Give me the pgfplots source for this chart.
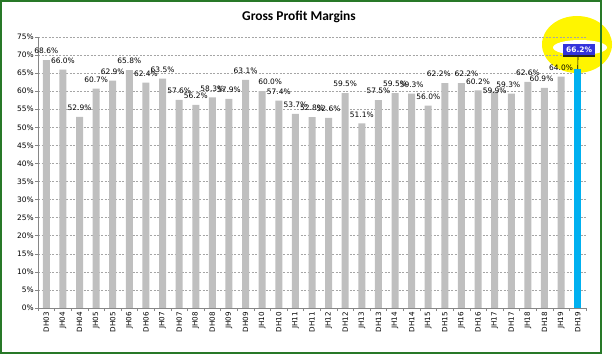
\documentclass[border=0pt]{standalone}
\usepackage{fontspec}
\setmainfont{DejaVu Sans}
\newfontfamily\titlefont{Carlito}
\usepackage{pgfplots}
\pgfplotsset{compat=1.18}
\usepackage{pgfplotstable}

\definecolor{bargray}{RGB}{191,191,191}
\definecolor{barblue}{RGB}{0,176,240}
\definecolor{gridgray}{RGB}{165,165,165}
\definecolor{axisgray}{RGB}{134,134,134}
\definecolor{framegreen}{RGB}{40,120,40}
\definecolor{lblblue}{RGB}{51,51,220}
\definecolor{hilite}{RGB}{255,245,0}

% dx, dy: label offsets in pixels
\pgfplotstableread{
x y dx dy
0 68.6 0 0
1 66.0 0 0
2 52.9 0 0
3 60.7 0 0
4 62.9 0 0
5 65.8 0 0
6 62.4 0 0
7 63.5 0 0
8 57.6 0 0
9 56.2 0 0
10 58.3 0 0
11 57.9 0 0
12 63.1 0 0
13 60.0 8 0
14 57.4 0 0
15 53.7 0 0
16 52.8 0 0
17 52.6 0 0
18 59.5 0 0
19 51.1 0 0
20 57.5 0 0
21 59.5 0 0
22 59.3 0 0
23 56.0 0 0
24 62.2 -6 0
25 62.2 5 0
26 60.2 0 0
27 59.9 0 -8
28 59.3 -3 0
29 62.6 0 0
30 60.9 -3 0
31 64.0 0 0
}\gpm
\pgfplotstableread{
x y
32 66.2
}\gpmlast

\begin{document}
\begin{tikzpicture}
\useasboundingbox (0,0) rectangle (615bp,354bp);
\node[font=\titlefont\bfseries\fontsize{13.5}{16}\selectfont, anchor=base, inner sep=0pt] at (299bp,333.5bp) {Gross Profit Margins};
% highlighter blob
\fill[hilite] (577bp,309.5bp) ellipse (35bp and 28.5bp);
\fill[white] (580bp,306.5bp) ellipse (27bp and 7.5bp);
\begin{axis}[
  at={(38bp,46bp)}, anchor=south west,
  scale only axis, width=548bp, height=271bp,
  xmin=-0.5, xmax=32.5, ymin=0, ymax=75,
  /pgf/number format/assume math mode=true,
  axis lines=left, axis line style={-, axisgray},
  ymajorgrids, grid style={gridgray, dash pattern=on 2bp off 1.5bp, line width=0.5bp},
  ytick={0,5,...,75},
  yticklabel={\pgfmathprintnumber{\tick}\%},
  yticklabel style={font=\fontsize{7.5}{8}\selectfont, inner sep=1bp},
  xtick={-0.5,0.5,...,32.5},
  x tick label as interval,
  xticklabels={DH03,JH04,DH04,JH05,DH05,JH06,DH06,JH07,DH07,JH08,DH08,JH09,DH09,JH10,DH10,JH11,DH11,JH12,DH12,JH13,DH13,JH14,DH14,JH15,DH15,JH16,DH16,JH17,DH17,JH18,DH18,JH19,DH19},
  xticklabel style={rotate=90, anchor=east, font=\fontsize{7.2}{8}\selectfont, inner sep=1bp},
  tick align=outside, major tick length=3bp, tick style={axisgray, line width=0.5bp},
  bar width=7bp,
]
\addplot[ybar, bar shift=0pt, fill=bargray, draw=none] table[x=x,y=y]{\gpm};
\addplot[ybar, bar shift=0pt, fill=barblue, draw=none] table[x=x,y=y]{\gpmlast};
% data labels (positions from the same table, offsets in px)
\addplot[draw=none, mark=none,
  nodes near coords={\pgfmathprintnumber[fixed,fixed zerofill,precision=1]{\pgfplotspointmeta}\%},
  point meta=explicit,
  every node near coord/.append style={font=\fontsize{7.5}{8}\selectfont, text=black, inner sep=1bp, anchor=south, yshift=5bp}
] table[x expr=\thisrow{x}+\thisrow{dx}/16.6, y expr=\thisrow{y}+\thisrow{dy}/3.613, meta=y]{\gpm};
\addplot[draw=none, mark=none,
  nodes near coords={\colorbox{lblblue}{\bfseries\pgfmathprintnumber[fixed,fixed zerofill,precision=1]{\pgfplotspointmeta}\%}\rule[-5bp]{0pt}{5bp}},
  point meta=explicit,
  every node near coord/.append style={font=\fontsize{7.5}{8}\selectfont, fill=black!85, text=white, inner sep=0pt, anchor=south, yshift=11.5bp, xshift=1.5bp}
] table[x=x, y=y, meta=y]{\gpmlast};
\draw[black, line width=0.6bp] (axis cs:32,66.2) -- (axis cs:32.02,69.5);
\end{axis}
\draw[framegreen, line width=1.2bp] (1bp,1bp) rectangle (601bp,353bp);
\end{tikzpicture}
\end{document}
